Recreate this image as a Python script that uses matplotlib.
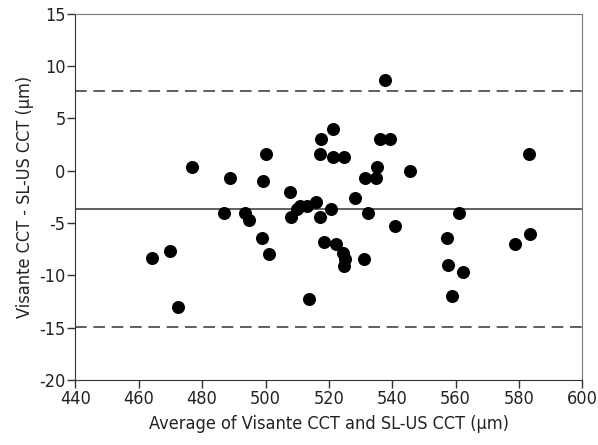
import matplotlib.pyplot as plt
from matplotlib import font_manager

# Bland-Altman: Visante vs SL-US central corneal thickness
avg_cct = [464.2, 469.9, 472.3, 476.9, 486.9, 488.8, 493.5, 494.9, 498.8, 499.3,
           500.0, 501.2,
           537.6, 521.4, 517.5, 536.1, 539.2, 517.2, 521.4, 524.7, 535.2, 531.3,
           535.0, 545.7, 507.7, 528.2, 515.9, 513.2, 510.9, 509.8, 508.0, 517.2,
           520.8, 532.4, 541.0, 518.4, 522.2, 524.3, 525.0, 524.8, 531.2, 513.8,
           583.1, 561.0, 557.3, 583.6, 578.7, 557.7, 562.3, 558.7]
diff_cct = [-8.35, -7.65, -13.0, 0.35, -4.0, -0.7, -4.0, -4.7, -6.4, -1.0,
            1.6, -8.0,
            8.7, 4.0, 3.0, 3.0, 3.0, 1.6, 1.3, 1.3, 0.35, -0.7,
            -0.7, 0.0, -2.0, -2.6, -3.0, -3.35, -3.35, -3.7, -4.4, -4.4,
            -3.7, -4.0, -5.3, -6.8, -7.0, -7.9, -8.4, -9.1, -8.4, -12.3,
            1.6, -4.0, -6.4, -6.05, -7.0, -9.05, -9.7, -12.0]
mean_diff = -3.65
upper_loa = 7.6
lower_loa = -14.9

# look for a narrow font, the original uses a condensed face
narrow = [f for f in font_manager.fontManager.ttflist
          if 'narrow' in f.name.lower() or 'condensed' in f.name.lower()
          or f.stretch in ('condensed', 'semi-condensed', 'extra-condensed')]
if narrow:
    plt.rcParams['font.family'] = [narrow[0].name, 'DejaVu Sans']
    plt.rcParams['font.stretch'] = narrow[0].stretch
plt.rcParams['axes.unicode_minus'] = False

fig = plt.figure(figsize=(5.98, 4.45), dpi=100)
ax = fig.add_axes([0.126, 0.146, 0.848, 0.823])

ax.scatter(avg_cct, diff_cct, s=70, color='black', zorder=3)
ax.axhline(mean_diff, color='#444444', lw=1.2)
ax.axhline(upper_loa, color='#444444', lw=1.2, ls=(0, (7, 4)))
ax.axhline(lower_loa, color='#444444', lw=1.2, ls=(0, (7, 4)))

ax.set_xlim(440, 600)
ax.set_ylim(-20, 15)
ax.set_xticks(range(440, 601, 20))
ax.set_yticks(range(-20, 16, 5))
ax.tick_params(labelsize=13, length=6, width=1, color='#333333', pad=1,
               labelcolor='#222222')
for side in ['top', 'right']:
    ax.spines[side].set_color('#777777')
for side in ['left', 'bottom']:
    ax.spines[side].set_color('#333333')

ax.set_xlabel('Average of Visante CCT and SL-US CCT (μm)', fontsize=13,
              labelpad=5, color='#222222')
ax.set_ylabel('Visante CCT - SL-US CCT (μm)', fontsize=13, labelpad=4,
              color='#222222')

fig.savefig('out.png', dpi=100)
